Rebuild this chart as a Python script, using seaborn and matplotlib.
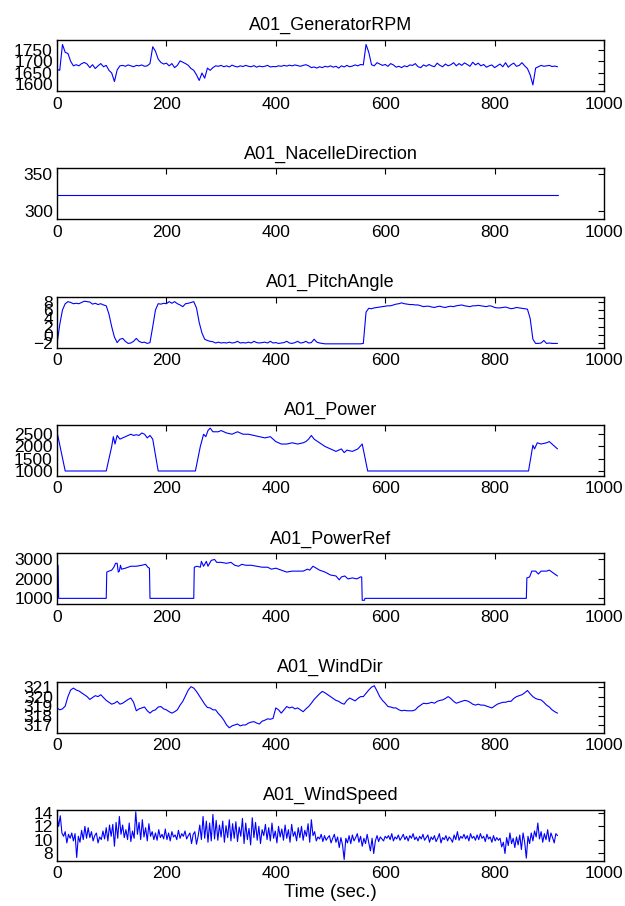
import numpy as np
import matplotlib
matplotlib.use("Agg")
import matplotlib.pyplot as plt
import seaborn as sns

# time axes (seconds)
t5 = np.arange(0, 916, 5)
t3 = np.arange(0, 916, 3)

rpm = [1665, 1660, 1775, 1740, 1735, 1700, 1680, 1685, 1680, 1690,
       1695, 1688, 1672, 1685, 1668, 1680, 1690, 1676, 1682, 1660,
       1648, 1610, 1662, 1680, 1682, 1678, 1684, 1680, 1676, 1682,
       1680, 1684, 1678, 1680, 1690, 1765, 1745, 1710, 1695, 1688,
       1692, 1680, 1690, 1672, 1682, 1702, 1696, 1690, 1682, 1668,
       1660, 1640, 1615, 1648, 1625, 1670, 1660, 1672, 1680, 1678,
       1682, 1676, 1680, 1675, 1683, 1678, 1675, 1680, 1677, 1682,
       1678, 1676, 1681, 1674, 1679, 1676, 1678, 1682, 1675, 1677,
       1676, 1680, 1678, 1682, 1679, 1683, 1680, 1684, 1681, 1678,
       1682, 1685, 1680, 1672, 1675, 1670, 1676, 1672, 1678, 1675,
       1680, 1674, 1678, 1670, 1680, 1675, 1682, 1676, 1679, 1684,
       1680, 1686, 1684, 1775, 1740, 1685, 1680, 1694, 1688, 1682,
       1686, 1678, 1690, 1684, 1674, 1678, 1672, 1680, 1676, 1684,
       1682, 1690, 1676, 1672, 1684, 1678, 1686, 1680, 1676, 1692,
       1682, 1676, 1688, 1680, 1685, 1694, 1680, 1690, 1682, 1693,
       1686, 1678, 1696, 1684, 1692, 1680, 1686, 1674, 1680, 1684,
       1672, 1680, 1688, 1676, 1694, 1674, 1685, 1692, 1678, 1682,
       1694, 1680, 1668, 1640, 1595, 1670, 1676, 1682, 1678, 1680,
       1682, 1677, 1679, 1676]

nacelle_t = [0, 915]
nacelle = [321, 321]

pitch = [-2.2, 2.5, 6.0, 7.5, 8.0, 7.8, 7.5, 7.6, 7.5, 7.8,
         8.1, 8.0, 7.9, 7.4, 7.6, 7.3, 7.5, 7.2, 7.0, 5.0,
         2.0, -0.5, -1.8, -1.0, -0.8, -1.5, -2.0, -1.9, -1.5, -0.8,
         -1.5, -1.8, -1.7, -2.0, -1.8, 2.0, 6.0, 7.5, 7.4, 7.6,
         7.5, 8.0, 7.6, 8.0, 7.5, 7.2, 6.8, 7.5, 7.6, 7.8,
         8.0, 6.5, 3.0, 0.5, -1.0, -1.3, -1.5, -1.6, -1.9, -1.7,
         -1.9, -1.8, -1.9, -1.7, -1.9, -1.8, -1.5, -1.9, -1.8, -1.9,
         -1.7, -1.9, -1.5, -1.8, -1.9, -1.8, -1.7, -1.9, -1.5, -1.9,
         -1.8, -2.0, -1.9, -1.8, -1.5, -1.9, -2.0, -1.8, -1.5, -1.9,
         -1.8, -1.5, -1.9, -1.8, -1.0, -1.7, -1.9, -2.0, -2.1, -2.1,
         -2.1, -2.1, -2.1, -2.1, -2.1, -2.1, -2.1, -2.1, -2.1, -2.1,
         -2.1, -2.1, -2.0, 5.5, 6.4, 6.3, 6.5, 6.6, 6.7, 6.8,
         6.9, 7.0, 7.0, 7.2, 7.4, 7.5, 7.7, 7.5, 7.4, 7.3,
         7.3, 7.2, 7.2, 7.0, 6.8, 6.9, 6.9, 6.7, 6.6, 6.8,
         6.9, 6.7, 6.6, 6.8, 6.9, 6.8, 7.0, 7.1, 7.2, 7.0,
         6.9, 6.8, 7.0, 7.0, 7.1, 7.0, 6.9, 6.8, 7.0, 6.9,
         6.6, 6.5, 6.5, 6.6, 6.7, 6.5, 6.3, 6.4, 6.6, 6.5,
         6.4, 6.3, 6.2, 4.0, -1.0, -2.0, -2.0, -1.9, -1.3, -2.0,
         -1.9, -2.0, -2.0, -2.0]

power_t = [0, 15, 90, 100, 103, 106, 110, 115, 120, 130, 135, 140, 145, 150,
           155, 160, 165, 170, 175, 185, 253, 262, 268, 272, 276, 280, 285,
           295, 300, 310, 320, 330, 340, 350, 360, 370, 380, 390, 400, 410,
           420, 430, 440, 450, 455, 460, 465, 470, 480, 490, 500, 510, 520,
           525, 530, 540, 550, 558, 568, 862, 870, 873, 878, 885, 895, 900,
           905, 915]
power = [2600, 1000, 1000, 2000, 2400, 2100, 2450, 2300, 2350, 2450, 2500,
         2450, 2480, 2450, 2550, 2500, 2350, 2450, 2300, 1000, 1000, 2000,
         2500, 2400, 2650, 2750, 2600, 2600, 2650, 2550, 2500, 2600, 2500,
         2500, 2450, 2400, 2350, 2400, 2200, 2100, 2100, 2150, 2100, 2150,
         2200, 2300, 2450, 2300, 2150, 2000, 1900, 1800, 1900, 1750, 1850,
         1800, 1900, 2100, 1000, 1000, 2050, 1900, 2150, 2100, 2150, 2200,
         2100, 1900]

pref_t = [0, 2, 3, 90, 91, 95, 100, 104, 107, 110, 112, 114, 116, 118, 125,
          130, 135, 145, 155, 162, 166, 169, 170, 250, 251, 256, 262, 264,
          268, 273, 276, 282, 288, 292, 300, 310, 318, 325, 332, 338, 345,
          355, 365, 375, 385, 392, 400, 410, 420, 430, 440, 450, 458, 462,
          468, 474, 480, 490, 500, 510, 516, 520, 526, 532, 540, 548, 555,
          557, 558, 562, 563, 858, 859, 864, 868, 875, 880, 885, 895, 900,
          905, 910, 915]
pref = [2700, 2700, 1000, 1000, 2350, 2400, 2450, 2600, 2800, 2800, 2350,
        2400, 2700, 2500, 2550, 2600, 2650, 2650, 2700, 2750, 2600, 2550,
        1000, 1000, 2600, 2650, 2600, 2900, 2650, 2900, 2650, 2950, 3000,
        2850, 2850, 2800, 2850, 2700, 2650, 2750, 2700, 2700, 2650, 2600,
        2600, 2500, 2550, 2450, 2350, 2400, 2400, 2400, 2500, 2450, 2650,
        2550, 2450, 2350, 2200, 2150, 1950, 2100, 2150, 2000, 2050, 2000,
        2100, 2100, 900, 900, 1000, 1000, 2050, 2100, 2400, 2400, 2250,
        2400, 2400, 2450, 2350, 2250, 2150]

wind_dir = [318.8, 318.6, 318.7, 319.0, 320.0, 320.7, 320.9, 320.7, 320.6, 320.4,
            320.2, 320.0, 319.7, 319.9, 320.1, 320.0, 320.2, 319.9, 319.6, 319.4,
            319.2, 319.3, 319.5, 319.2, 319.3, 319.5, 319.7, 319.85, 319.4, 318.5,
            318.7, 318.8, 318.9, 318.5, 318.25, 318.5, 318.6, 318.9, 318.95, 318.7,
            318.6, 318.4, 318.25, 318.4, 318.6, 319.1, 319.5, 320.1, 320.7, 321.05,
            320.9, 320.55, 320.1, 319.65, 319.2, 318.85, 318.8, 318.6, 318.6, 318.2,
            317.9, 317.5, 317.0, 316.7, 316.9, 317.0, 317.1, 316.9, 317.0, 317.0,
            317.2, 317.3, 317.35, 317.2, 317.1, 317.4, 317.5, 317.65, 317.6, 317.7,
            318.8, 318.6, 318.25, 318.6, 318.95, 318.8, 318.9, 318.7, 318.8, 318.6,
            318.4, 318.7, 318.95, 319.3, 319.7, 320.0, 320.3, 320.55, 320.4, 320.2,
            320.0, 319.8, 319.6, 319.5, 319.3, 319.2, 319.6, 319.85, 319.7, 319.55,
            319.8, 320.0, 320.0, 320.35, 320.7, 321.0, 321.15, 320.6, 320.0, 319.6,
            319.3, 318.95, 318.9, 318.8, 318.8, 318.6, 318.5, 318.55, 318.5, 318.5,
            318.5, 318.6, 318.9, 319.1, 319.3, 319.25, 319.3, 319.4, 319.3, 319.5,
            319.6, 319.65, 319.8, 320.0, 319.8, 319.5, 319.3, 319.4, 319.5, 319.6,
            319.55, 319.4, 319.2, 319.1, 319.2, 319.1, 319.1, 319.0, 318.9, 318.8,
            319.0, 319.2, 319.3, 319.4, 319.4, 319.5, 319.5, 319.8, 320.0, 320.1,
            320.2, 320.4, 320.65, 320.3, 320.0, 319.8, 319.7, 319.65, 319.4, 319.1,
            318.9, 318.6, 318.4, 318.25]

wind_speed = [13.5, 12.0, 13.6, 11.0, 10.5, 11.2, 9.5, 10.8, 10.2, 11.0,
              9.8, 10.9, 7.3, 10.5, 9.6, 11.4, 10.0, 12.0, 10.2, 11.8,
              10.3, 11.2, 9.8, 10.6, 11.0, 9.5, 10.4, 10.0, 11.3, 10.1,
              11.8, 9.8, 12.2, 10.5, 12.3, 9.0, 12.6, 10.2, 13.5, 10.8,
              12.2, 10.3, 11.5, 10.0, 12.5, 9.7, 11.3, 10.2, 14.2, 10.8,
              12.6, 10.0, 13.0, 10.4, 11.8, 9.8, 12.4, 10.5, 11.2, 10.0,
              11.0, 9.9, 11.5, 10.3, 10.8, 10.1, 11.6, 10.0, 11.0, 9.8,
              11.2, 10.4, 10.7, 10.0, 11.4, 10.2, 10.9, 10.5, 11.3, 10.1,
              10.6, 11.0, 9.4, 10.8, 11.2, 9.3, 10.5, 12.2, 10.0, 13.5,
              10.2, 12.8, 9.6, 12.5, 9.8, 13.8, 10.1, 12.9, 9.9, 12.2,
              10.4, 12.8, 9.6, 12.1, 10.3, 13.0, 9.8, 12.4, 10.2, 12.7,
              9.7, 11.9, 10.5, 13.2, 9.4, 12.5, 10.0, 11.7, 9.2, 13.3,
              10.3, 12.6, 9.9, 12.0, 9.4, 11.5, 10.6, 12.3, 10.0, 11.8,
              9.8, 12.5, 10.2, 11.3, 9.5, 12.0, 10.4, 11.6, 9.9, 12.2,
              10.2, 11.5, 9.6, 12.3, 10.5, 11.2, 9.8, 11.8, 10.3, 12.0,
              9.9, 11.4, 10.5, 12.4, 9.6, 13.0, 10.6, 11.2, 9.8, 10.4,
              10.1, 10.8, 9.7, 10.6, 9.9, 10.3, 10.6, 9.5, 10.2, 10.8,
              9.6, 10.4, 8.8, 10.3, 9.2, 7.0, 10.2, 9.5, 10.6, 9.4,
              10.7, 9.8, 10.3, 10.9, 9.6, 10.5, 9.0, 10.2, 9.4, 10.8,
              9.5, 8.3, 10.2, 7.9, 9.8, 10.6, 9.7, 10.4, 10.1, 9.8,
              10.5, 10.2, 10.6, 10.0, 10.9, 9.8, 10.4, 10.1, 10.7, 9.9,
              10.3, 10.8, 10.0, 10.5, 9.8, 10.6, 10.2, 10.9, 10.0, 10.4,
              9.8, 10.5, 10.1, 10.8, 9.9, 10.3, 10.7, 9.6, 10.4, 10.0,
              10.6, 9.7, 10.2, 10.9, 9.5, 10.3, 10.0, 10.6, 9.8, 10.4,
              10.1, 9.6, 10.7, 10.0, 11.2, 9.9, 10.5, 10.2, 10.8, 10.1,
              10.6, 9.8, 10.9, 10.2, 10.5, 9.9, 10.7, 10.0, 10.9, 10.2,
              10.5, 9.7, 10.8, 10.1, 10.4, 9.6, 10.6, 9.8, 10.3, 9.9,
              10.2, 8.9, 9.6, 7.9, 10.3, 9.1, 11.0, 9.4, 10.2, 8.8,
              10.4, 9.2, 10.7, 8.5, 11.0, 9.6, 7.2, 10.5, 9.4, 11.0,
              9.8, 11.3, 10.4, 12.5, 10.1, 11.2, 9.6, 10.9, 10.0, 11.5,
              9.7, 11.0, 10.3, 9.5, 10.9, 10.6]

titles = ["A01_GeneratorRPM", "A01_NacelleDirection", "A01_PitchAngle",
          "A01_Power", "A01_PowerRef", "A01_WindDir", "A01_WindSpeed"]
yticks = [[1600, 1650, 1700, 1750], [300, 350], [-2, 0, 2, 4, 6, 8],
          [1000, 1500, 2000, 2500], [1000, 2000, 3000],
          [317, 318, 319, 320, 321], [8, 10, 12, 14]]
ylims = [(1568, 1795), (289, 357), (-3.0, 9.2), (800, 2880), (700, 3320),
         (316.2, 321.6), (6.8, 14.5)]
xticks = [0, 200, 400, 600, 800, 1000]

series = [(t5, rpm), (nacelle_t, nacelle), (t5, pitch), (power_t, power),
          (pref_t, pref), (t5, wind_dir), (t3, wind_speed)]

sns.set_style("white")
plt.rcParams['font.family'] = ['Liberation Sans', 'DejaVu Sans']

fig = plt.figure(figsize=(6.25, 9.06), dpi=100)
W, H = 625, 906
for i, (x, y) in enumerate(series):
    top = 40 + 128.3 * i
    ax = fig.add_axes([57 / W, 1 - (top + 51) / H, 547 / W, 51 / H])
    sns.lineplot(x=x, y=y, ax=ax, color='blue', linewidth=0.8,
                 estimator=None, sort=False)
    ax.set_xlim(0, 1000)
    ax.set_ylim(*ylims[i])
    ax.set_xticks(xticks)
    ax.set_yticks(yticks[i])
    ax.tick_params(direction='in', top=True, right=True, length=4,
                   width=0.8, labelsize=12.5, pad=3, colors='black')
    ax.tick_params(axis='x', pad=4)
    for s in ax.spines.values():
        s.set_color('black')
        s.set_linewidth(1.0)
    ax.set_title(titles[i], fontsize=13, pad=7, color='black')
    ax.set_ylabel('')
    ax.set_xlabel('')
    if i == 6:
        ax.set_xlabel('Time (sec.)', fontsize=13.5, labelpad=2,
                      color='black')

fig.savefig('out.png', dpi=100, facecolor='white')
